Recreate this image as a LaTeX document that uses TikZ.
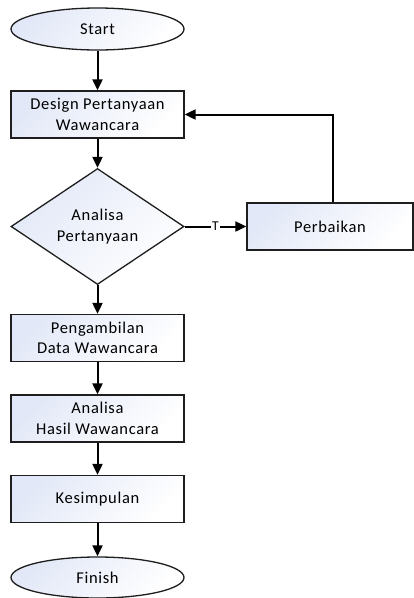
\documentclass[tikz,border=0pt]{standalone}
\usepackage{fontspec}
\setmainfont{Carlito}[LetterSpace=4]
\usetikzlibrary{shapes.geometric,arrows.meta}
\definecolor{shadeblue}{RGB}{226,232,247}
\definecolor{edgegray}{RGB}{30,30,30}
\tikzset{
  boxbase/.style={draw=edgegray, line width=1.3pt, top color=shadeblue, bottom color=white,
    shading angle=45,
    font=\fontsize{16.5}{20.5}\selectfont, align=center, inner sep=0pt, text=black},
  procbox/.style={boxbase, rectangle, minimum width=173pt, minimum height=47pt},
  termbox/.style={boxbase, ellipse, minimum width=173pt, minimum height=42pt},
  decbox/.style={boxbase, diamond, minimum width=173pt, minimum height=107pt},
  flowarrow/.style={line width=2pt, -{Triangle[length=11pt,width=10pt]}}
}
\begin{document}
\begin{tikzpicture}[x=1pt,y=-1pt]
\useasboundingbox (0,0) rectangle (414,598);
\node[termbox] (start) at (97.5,29) {Start};
\node[procbox] (design) at (97.5,114.5) {Design Pertanyaan\\Wawancara};
\node[decbox] (analisa) at (97.5,226.5) {Analisa\\Pertanyaan};
\node[procbox, minimum width=166pt] (perbaikan) at (330,226.5) {Perbaikan};
\node[procbox] (ambil) at (97.5,338) {Pengambilan\\Data Wawancara};
\node[procbox] (hasil) at (97.5,418.5) {Analisa\\Hasil Wawancara};
\node[procbox] (simpul) at (97.5,499) {Kesimpulan};
\node[termbox, minimum height=41pt] (finish) at (97.5,577.5) {Finish};
\coordinate (corner) at (333,114.5);
\draw[flowarrow] (start) -- (design);
\draw[flowarrow] (design) -- (analisa);
\draw[flowarrow] (analisa.east) -- node[fill=white, inner sep=1pt, font=\fontsize{13.5}{14}\selectfont, pos=0.5] (tlabel) {T} (perbaikan.west);
\draw[flowarrow] (perbaikan.north -| corner) -- (corner) -- (design.east);
\draw[flowarrow] (analisa) -- (ambil);
\draw[flowarrow] (ambil) -- (hasil);
\draw[flowarrow] (hasil) -- (simpul);
\draw[flowarrow] (simpul) -- (finish);
\end{tikzpicture}
\end{document}
